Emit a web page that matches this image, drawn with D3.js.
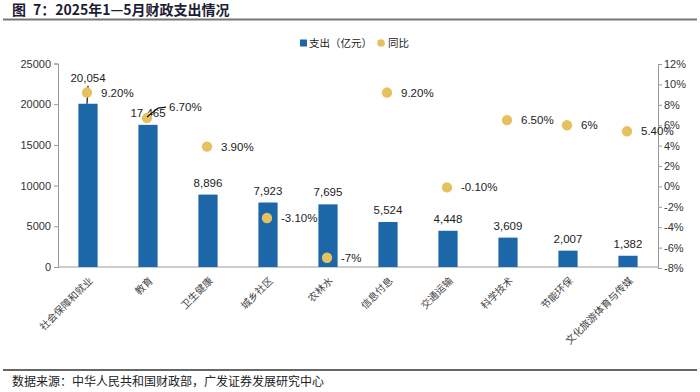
<!DOCTYPE html>
<html>
<head>
<meta charset="utf-8">
<script src="https://cdn.jsdelivr.net/npm/d3@7"></script>
<style>
  body { margin: 0; background: #fff; }
  text { font-family: "Liberation Sans", Arial, sans-serif; }
  .cjk { font-family: "Noto Sans CJK SC", sans-serif; }
</style>
</head>
<body>
<div id="chart"></div>
<script>
var categories = ['社会保障和就业', '教育', '卫生健康', '城乡社区', '农林水', '信息付息', '交通运输', '科学技术', '节能环保', '文化旅游体育与传媒']
var spending = [20054, 17465, 8896, 7923, 7695, 5524, 4448, 3609, 2007, 1382]
var yoy = [9.2, 6.7, 3.9, -3.1, -7, 9.2, -0.1, 6.5, 6, 5.4]
var yoyLabels = ['9.20%', '6.70%', '3.90%', '-3.10%', '-7%', '9.20%', '-0.10%', '6.50%', '6%', '5.40%']
var leftTicks = [0, 5000, 10000, 15000, 20000, 25000]
var rightTicks = [-8, -6, -4, -2, 0, 2, 4, 6, 8, 10, 12]

var w = 700, h = 392
var margin = { top: 64, right: 42, bottom: 125, left: 58 }

var blue = '#1b67a7'
var gold = '#e5c25f'
var format = d3.format(',')

var svg = d3.select('#chart').append('svg')
  .attr('width', w)
  .attr('height', h)

// title + rules
svg.append('text')
  .attr('class', 'cjk')
  .attr('x', 12)
  .attr('y', 15)
  .style('font-size', '14px')
  .style('font-weight', 'bold')
  .attr('fill', '#1d1d33')
  .text('图\u20027：2025年1—5月财政支出情况')

svg.append('line')
  .attr('x1', 3).attr('x2', 697)
  .attr('y1', 19.5).attr('y2', 19.5)
  .attr('stroke', '#777').attr('stroke-width', 2)

svg.append('line')
  .attr('x1', 3).attr('x2', 697)
  .attr('y1', 370).attr('y2', 370)
  .attr('stroke', '#666').attr('stroke-width', 2)

svg.append('text')
  .attr('class', 'cjk')
  .attr('x', 12)
  .attr('y', 386)
  .style('font-size', '12px')
  .attr('fill', '#222')
  .text('数据来源：中华人民共和国财政部，广发证券发展研究中心')

var plotW = w - margin.left - margin.right
var y0 = 267

var x = d3.scaleBand()
  .domain(categories)
  .range([margin.left, margin.left + plotW])
  .paddingInner(0.68)
  .paddingOuter(0.34)

var yLeft = d3.scaleLinear()
  .domain([0, 25000])
  .range([y0, margin.top - 0.5])

var yRight = d3.scaleLinear()
  .domain([-8, 12])
  .range([268, 64])

// axes
var leftAxis = svg.append('g')
  .attr('transform', 'translate(' + margin.left + ',0)')
  .call(d3.axisLeft(yLeft).tickValues(leftTicks).tickSize(4).tickPadding(3).tickFormat(d3.format('d')))
leftAxis.select('.domain').attr('stroke', '#999')
leftAxis.selectAll('.tick line').attr('stroke', '#999')
leftAxis.selectAll('.tick text')
  .style('font-size', '11px')
  .style('font-family', '"Liberation Sans", Arial, sans-serif')
  .attr('fill', '#333')

var rightAxis = svg.append('g')
  .attr('transform', 'translate(' + (margin.left + plotW) + ',0)')
  .call(d3.axisRight(yRight).tickValues(rightTicks).tickSize(4).tickPadding(2).tickFormat(function(d) { return d + '%' }))
rightAxis.select('.domain').attr('stroke', '#999')
rightAxis.selectAll('.tick line').attr('stroke', '#999')
rightAxis.selectAll('.tick text')
  .style('font-size', '11px')
  .style('font-family', '"Liberation Sans", Arial, sans-serif')
  .attr('fill', '#333')

svg.append('line')
  .attr('x1', margin.left).attr('x2', margin.left + plotW)
  .attr('y1', y0).attr('y2', y0)
  .attr('stroke', '#999')

// bars
svg.selectAll('.bar')
  .data(spending)
  .enter().append('rect')
  .attr('class', 'bar')
  .attr('x', function(d, i) { return x(categories[i]) })
  .attr('width', x.bandwidth())
  .attr('y', function(d) { return yLeft(d) })
  .attr('height', function(d) { return y0 - yLeft(d) })
  .attr('fill', blue)

function cx(i) { return x(categories[i]) + x.bandwidth() / 2 }

// bar labels, first one is pushed up with a leader line
var barLift = function(i) { return i == 0 ? 26 : 12 }

svg.append('line')
  .attr('x1', cx(0) - 1).attr('y1', yLeft(spending[0]))
  .attr('x2', cx(0)).attr('y2', yLeft(spending[0]) - barLift(0) + 8)
  .attr('stroke', '#111').attr('stroke-width', 1.2)

svg.selectAll('.barLabel')
  .data(spending)
  .enter().append('text')
  .attr('class', 'barLabel')
  .attr('x', function(d, i) { return cx(i) })
  .attr('y', function(d, i) { return yLeft(d) - barLift(i) })
  .attr('dy', '0.35em')
  .attr('text-anchor', 'middle')
  .style('font-size', '11.5px')
  .attr('fill', '#222')
  .text(function(d) { return format(d) })

// yoy dots
svg.selectAll('.dot')
  .data(yoy)
  .enter().append('circle')
  .attr('class', 'dot')
  .attr('cx', function(d, i) { return cx(i) - 1 })
  .attr('cy', function(d) { return yRight(d) })
  .attr('r', 5.2)
  .attr('fill', gold)

// second label sits up and right with a bent leader
var p2 = { x: cx(1) - 1, y: yRight(yoy[1]) }
svg.append('path')
  .attr('d', 'M' + p2.x + ',' + (p2.y - 1) + 'L' + (p2.x + 11) + ',' + (p2.y - 10) + 'L' + (p2.x + 19) + ',' + (p2.y - 11))
  .attr('fill', 'none')
  .attr('stroke', '#111').attr('stroke-width', 1.2)

svg.selectAll('.yoyLabel')
  .data(yoy)
  .enter().append('text')
  .attr('class', 'yoyLabel')
  .attr('x', function(d, i) { return cx(i) - 1 + (i == 1 ? 22 : 14) })
  .attr('y', function(d, i) { return yRight(d) - (i == 1 ? 11 : 0) })
  .attr('dy', '0.35em')
  .style('font-size', '11.5px')
  .attr('fill', '#222')
  .text(function(d, i) { return yoyLabels[i] })

// category labels
svg.selectAll('.catLabel')
  .data(categories)
  .enter().append('text')
  .attr('class', 'catLabel cjk')
  .attr('transform', function(d, i) { return 'translate(' + (cx(i) + 3) + ',' + 279 + ') rotate(-45)' })
  .attr('text-anchor', 'end')
  .attr('dy', '0.35em')
  .style('font-size', '10px')
  .attr('fill', '#444')
  .text(function(d) { return d })

// legend
var legend = svg.append('g').attr('transform', 'translate(300,43)')
legend.append('rect')
  .attr('x', 0).attr('y', -3.5)
  .attr('width', 7).attr('height', 7)
  .attr('fill', blue)
legend.append('text')
  .attr('class', 'cjk')
  .attr('x', 9).attr('y', 0)
  .attr('dy', '0.35em')
  .style('font-size', '10.5px')
  .attr('fill', '#222')
  .text('支出（亿元）')
legend.append('circle')
  .attr('cx', 81).attr('cy', 0)
  .attr('r', 3.8)
  .attr('fill', gold)
legend.append('text')
  .attr('class', 'cjk')
  .attr('x', 88).attr('y', 0)
  .attr('dy', '0.35em')
  .style('font-size', '10.5px')
  .attr('fill', '#222')
  .text('同比')
</script>
</body>
</html>
